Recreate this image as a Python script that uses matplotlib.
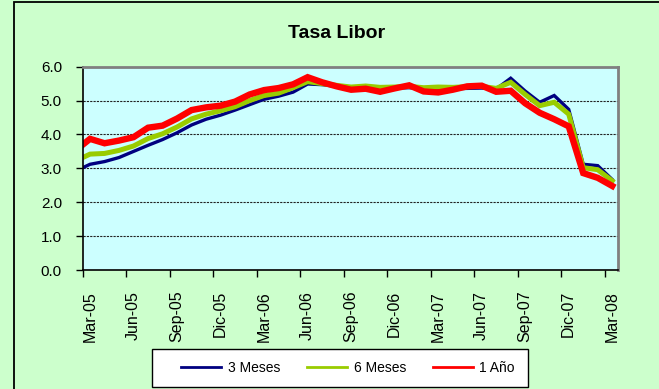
import matplotlib.pyplot as plt
import matplotlib.transforms as mtransforms
from matplotlib.patches import Rectangle

plt.rcParams['font.family'] = ['Liberation Sans', 'DejaVu Sans']

# Monthly Libor rates (%), first reading at the start of Mar-05, then mid-month
month_pos = [0] + [m + 0.5 for m in range(37)]

libor_3m = [3.02, 3.12, 3.20, 3.32, 3.50, 3.68, 3.85, 4.05, 4.28, 4.45,
            4.57, 4.72, 4.88, 5.04, 5.13, 5.25, 5.49, 5.47, 5.42, 5.38,
            5.40, 5.36, 5.37, 5.38, 5.36, 5.35, 5.35, 5.36, 5.37, 5.34,
            5.66, 5.28, 4.95, 5.15, 4.74, 3.12, 3.08, 2.67]
libor_6m = [3.32, 3.42, 3.44, 3.53, 3.66, 3.88, 4.02, 4.22, 4.46, 4.60,
            4.70, 4.82, 5.00, 5.15, 5.22, 5.38, 5.56, 5.50, 5.45, 5.40,
            5.43, 5.39, 5.40, 5.42, 5.38, 5.40, 5.39, 5.41, 5.42, 5.36,
            5.54, 5.18, 4.85, 4.95, 4.60, 3.02, 2.96, 2.63]
libor_1y = [3.70, 3.87, 3.74, 3.82, 3.92, 4.20, 4.26, 4.47, 4.72, 4.80,
            4.85, 4.97, 5.18, 5.31, 5.37, 5.48, 5.69, 5.54, 5.42, 5.32,
            5.35, 5.26, 5.36, 5.45, 5.27, 5.24, 5.32, 5.42, 5.44, 5.26,
            5.29, 4.92, 4.64, 4.45, 4.24, 2.86, 2.72, 2.48]

tick_months = [0, 3, 6, 9, 12, 15, 18, 21, 24, 27, 30, 33, 36]
tick_labels = ['Mar-05', 'Jun-05', 'Sep-05', 'Dic-05', 'Mar-06', 'Jun-06',
               'Sep-06', 'Dic-06', 'Mar-07', 'Jun-07', 'Sep-07', 'Dic-07',
               'Mar-08']
series_names = ['3 Meses', '6 Meses', '1 Año']

W, H = 659, 389
fig = plt.figure(figsize=(W / 100, H / 100), dpi=100)
fig.patch.set_facecolor('#CCFFCC')

# chart area border (runs off the right and bottom edges)
fig.patches.append(Rectangle((14 / W, -0.1), 1.2, 0.1 + 1 - 2 / H,
                             transform=fig.transFigure, fill=False,
                             edgecolor='black', linewidth=1.3))

ax = fig.add_axes([82.8 / W, 1 - 270 / H, (617.6 - 82.8) / W, (270 - 66.7) / H])
ax.set_facecolor('#CCFFFF')

l3, = ax.plot(month_pos, libor_3m, color='#000080', linewidth=2.4,
              solid_joinstyle='miter')
l6, = ax.plot(month_pos, libor_6m, color='#99CC00', linewidth=3.6,
              solid_joinstyle='miter')
l1, = ax.plot(month_pos, libor_1y, color='#FF0000', linewidth=4.6,
              solid_joinstyle='miter')

ax.set_xlim(0, 36.87)
ax.set_ylim(0, 6)
ax.set_yticks([0, 1, 2, 3, 4, 5, 6])
ax.set_yticklabels(['%.1f' % v for v in range(7)])
ax.set_xticks(tick_months)
ax.set_xticklabels(tick_labels, rotation=90, va='top', ha='center')

for y in [1, 2, 3, 4, 5]:
    ax.axhline(y, color='#222222', linewidth=0.8, linestyle=(0, (2, 1)),
               zorder=1)

ax.tick_params(axis='both', direction='out', length=5, width=1,
               colors='black', labelsize=11)
ax.tick_params(axis='y', pad=10)
ax.tick_params(axis='x', pad=10, labelsize=11.5)

# shift the rotated month labels a little to the right
offset = mtransforms.ScaledTranslation(7 / 100, 0, fig.dpi_scale_trans)
for lab in ax.get_xticklabels():
    lab.set_transform(lab.get_transform() + offset)

ax.spines['left'].set_color('black')
ax.spines['bottom'].set_color('black')
ax.spines['left'].set_linewidth(1.2)
ax.spines['bottom'].set_linewidth(1.2)
ax.spines['top'].set_color('#808080')
ax.spines['right'].set_color('#808080')
ax.spines['top'].set_linewidth(2)
ax.spines['right'].set_linewidth(2)

fig.text(336.7 / W, 1 - 34 / H, 'Tasa Libor', ha='center', va='center',
         fontsize=14, fontweight='bold')

# legend box drawn separately so the padding can be set freely
fig.patches.append(Rectangle((152 / W, 1 - 387 / H), 376 / W, 38 / H,
                             transform=fig.transFigure, facecolor='white',
                             edgecolor='black', linewidth=1))
leg = fig.legend([l3, l6, l1], series_names, loc='center left',
                 bbox_to_anchor=(181 / W, 1 - 368 / H), ncol=3,
                 frameon=False, fontsize=10, handlelength=2.9,
                 handletextpad=0.45, columnspacing=1.95, borderpad=0,
                 borderaxespad=0)
for h in leg.legend_handles:
    h.set_linewidth(2)

fig.savefig('out.png', dpi=100, facecolor=fig.get_facecolor())
